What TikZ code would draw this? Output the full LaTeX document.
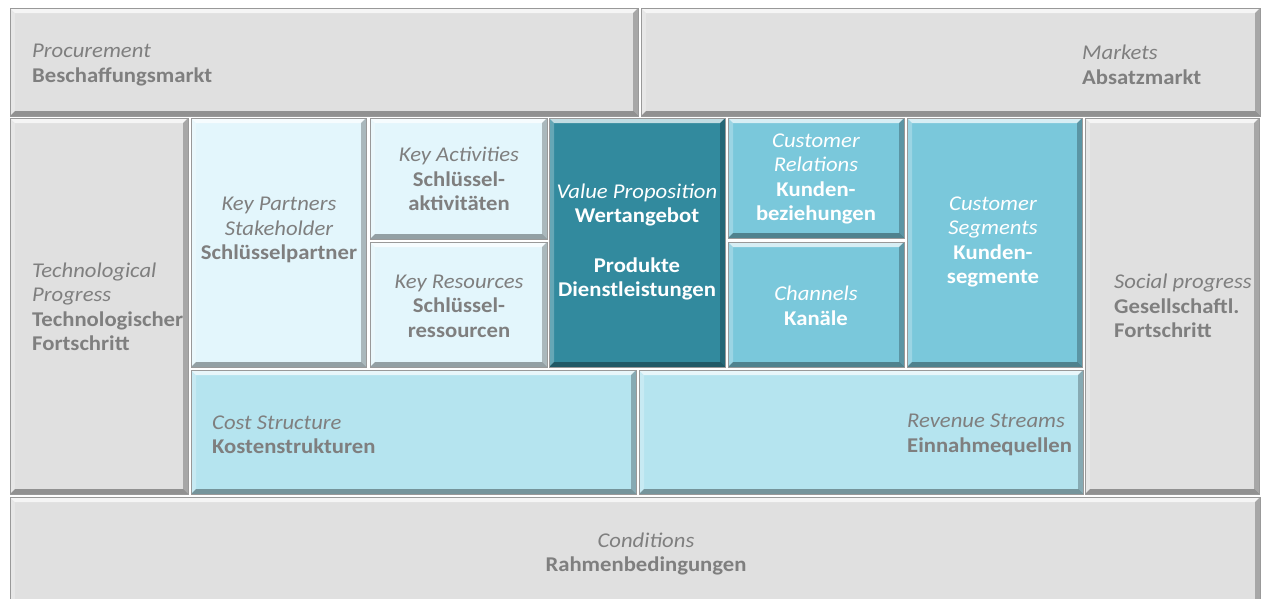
\documentclass[tikz,border=0pt]{standalone}
\usepackage{fontspec}
\setmainfont[FakeStretch=1.08]{Carlito}
\usetikzlibrary{calc}

\definecolor{greybox}{HTML}{E0E0E0}
\definecolor{palebox}{HTML}{E3F6FC}
\definecolor{tealbox}{HTML}{328A9E}
\definecolor{cyanbox}{HTML}{7AC8DB}
\definecolor{skybox}{HTML}{B5E4EF}
\definecolor{txtgrey}{HTML}{7F7F7F}

\newcommand\en[1]{{\itshape #1}}
\newcommand\de[1]{{\bfseries #1}}

\tikzset{
  bevel/.style={
    path picture={
      \coordinate (bnw) at (path picture bounding box.north west);
      \coordinate (bne) at (path picture bounding box.north east);
      \coordinate (bsw) at (path picture bounding box.south west);
      \coordinate (bse) at (path picture bounding box.south east);
      \fill[white,opacity=.7] (bnw) -- (bne) -- ($(bne)+(-5,5)$) -- ($(bnw)+(5,5)$) -- cycle;
      \fill[white,opacity=.25] (bnw) -- ($(bnw)+(5,5)$) -- ($(bsw)+(5,-5)$) -- (bsw) -- cycle;
      \fill[black,opacity=.25] (bne) -- (bse) -- ($(bse)+(-5,-5)$) -- ($(bne)+(-5,5)$) -- cycle;
      \fill[black,opacity=.35] (bsw) -- (bse) -- ($(bse)+(-5,-5)$) -- ($(bsw)+(5,-5)$) -- cycle;
    }},
  block/.style={fill=#1, draw=black!40, line width=0.8pt, inner sep=0pt, bevel},
  lbl/.style={font=\fontsize{21}{24.5}\selectfont, text=txtgrey, inner sep=0pt},
  lblw/.style={lbl, text=white},
}

% \blk{name}{x1}{y1}{x2}{y2}{fill}
\newcommand\blk[6]{%
  \node[block=#6, minimum width={(#4-#2)*1pt}, minimum height={(#5-#3)*1pt}]
    (#1) at ({(#2+#4)/2},{(#3+#5)/2}) {};}

\begin{document}
\begin{tikzpicture}[x=1pt,y=-1pt]
  \clip (0,0) rectangle (1261,598);
  \fill[white] (0,0) rectangle (1261,598);

  % outer frame: markets, trends, conditions
  \blk{proc}{10}{8}{638}{116}{greybox}
  \blk{mark}{641}{8}{1260}{116}{greybox}
  \blk{tech}{10}{118}{188}{494}{greybox}
  \blk{soc}{1085}{118}{1259}{494}{greybox}
  \blk{cond}{10}{497}{1260}{606}{greybox}

  % canvas blocks
  \blk{kp}{191}{118}{366}{367}{palebox}
  \blk{ka}{370}{118}{547}{239}{palebox}
  \blk{kr}{370}{242}{547}{367}{palebox}
  \blk{vp}{549}{118}{725}{367}{tealbox}
  \blk{cr}{728}{118}{904}{238}{cyanbox}
  \blk{ch}{728}{242}{904}{367}{cyanbox}
  \blk{cs}{907}{118}{1082}{367}{cyanbox}
  \blk{cost}{191}{370}{636}{494}{skybox}
  \blk{rev}{639}{370}{1083}{494}{skybox}

  % texts
  \node[lbl, anchor=west, align=left] (procT) at (32,65) {\en{Procurement}\\\de{Beschaffungsmarkt}};
  \node[lbl, anchor=west, align=left] (markT) at (1082,65) {\en{Markets}\\\de{Absatzmarkt}};
  \node[lbl, anchor=west, align=left] (techT) at (32,307) {\en{Technological}\\\en{Progress}\\\de{Technologischer}\\\de{Fortschritt}};
  \node[lbl, anchor=west, align=left] (socT) at (1114,306) {\en{Social progress}\\\de{Gesellschaftl.}\\\de{Fortschritt}};
  \node[lbl, align=center] (condT) at (646,554) {\en{Conditions}\\\de{Rahmenbedingungen}};

  \node[lbl, align=center] (kpT) at (279,230) {\en{Key Partners}\\\en{Stakeholder}\\\de{Schlüsselpartner}};
  \node[lbl, align=center] (kaT) at (459,179) {\en{Key Activities}\\\de{Schlüssel-}\\\de{aktivitäten}};
  \node[lbl, align=center] (krT) at (459,306) {\en{Key Resources}\\\de{Schlüssel-}\\\de{ressourcen}};
  \node[lblw, align=center] (vpT) at (637,242) {\en{Value Proposition}\\\de{Wertangebot}\\[25pt]\de{Produkte}\\\de{Dienstleistungen}};
  \node[lblw, align=center] (crT) at (816,179) {\en{Customer}\\\en{Relations}\\\de{Kunden-}\\\de{beziehungen}};
  \node[lblw, align=center] (chT) at (816,306) {\en{Channels}\\\de{Kanäle}};
  \node[lblw, align=center] (csT) at (993,242) {\en{Customer}\\\en{Segments}\\\de{Kunden-}\\\de{segmente}};
  \node[lbl, anchor=west, align=left] (costT) at (212,435) {\en{Cost Structure}\\\de{Kostenstrukturen}};
  \node[lbl, anchor=west, align=left] (revT) at (907,435) {\en{Revenue Streams}\\\de{Einnahmequellen}};
\end{tikzpicture}
\end{document}
